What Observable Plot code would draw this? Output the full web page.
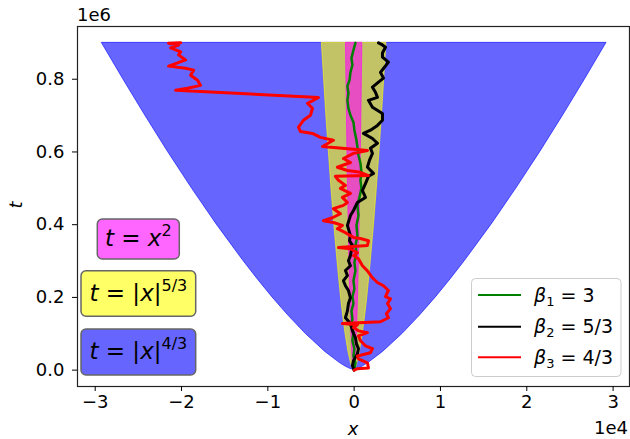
<!DOCTYPE html>
<html><head><meta charset="utf-8">
<script src="https://cdn.jsdelivr.net/npm/d3@7"></script>
<script src="https://cdn.jsdelivr.net/npm/@observablehq/plot@0.6"></script>
<style>body{margin:0;background:#fff;} #chart{width:630px;height:439px;}</style>
</head><body><div id="chart"></div>
<script>
// units: x in 1e4, t in 1e6
const tLevels = [0, 0.005, 0.01, 0.02, 0.05, 0.1, 0.15, 0.2, 0.25, 0.3, 0.4, 0.5, 0.6, 0.7, 0.8, 0.9];
const blueHalf = [0, 0.059, 0.1, 0.168, 0.334, 0.562, 0.762, 0.946, 1.118, 1.282, 1.591, 1.880, 2.156, 2.420, 2.675, 2.924];
const yellowHalf = [0, 0.017, 0.025, 0.038, 0.066, 0.1, 0.128, 0.152, 0.173, 0.193, 0.230, 0.263, 0.293, 0.322, 0.348, 0.374];
const pinkHalf = [0, 0.0071, 0.01, 0.0141, 0.0224, 0.0316, 0.0387, 0.0447, 0.05, 0.0548, 0.0632, 0.0707, 0.0775, 0.0837, 0.0894, 0.0949];

const greenX = [0, 0.015, -0.008, 0.003, -0.020, -0.008, -0.031, -0.020, -0.031, -0.008, -0.020, 0.003, -0.008, 0.015, 0.003, 0.027, 0.015, 0.038, 0.027, 0.050, 0.038, 0.061, 0.085, 0.073, 0.085, 0.073, 0.050, 0.038, 0.027, 0.003, -0.008, -0.043, -0.066, -0.078, -0.066, -0.078, -0.054, -0.043, -0.020, -0.031, -0.008, 0.015];
const greenT = [0, 0.020, 0.039, 0.059, 0.081, 0.103, 0.122, 0.141, 0.163, 0.183, 0.202, 0.224, 0.246, 0.273, 0.296, 0.323, 0.343, 0.370, 0.398, 0.425, 0.453, 0.475, 0.500, 0.522, 0.544, 0.569, 0.591, 0.613, 0.632, 0.660, 0.682, 0.701, 0.720, 0.742, 0.761, 0.781, 0.797, 0.819, 0.839, 0.858, 0.880, 0.900];

const blackX = [0, -0.020, -0.008, 0.038, 0.050, 0.027, 0.015, -0.020, -0.043, -0.101, -0.078, -0.066, -0.043, -0.066, -0.101, -0.124, -0.078, -0.101, -0.043, -0.066, -0.043, -0.020, -0.054, -0.043, -0.078, -0.043, -0.008, 0.038, 0.131, 0.096, 0.131, 0.166, 0.224, 0.154, 0.177, 0.212, 0.189, 0.270, 0.212, 0.108, 0.189, 0.270, 0.328, 0.328, 0.212, 0.166, 0.270, 0.247, 0.212, 0.282, 0.340, 0.305, 0.351, 0.397, 0.328, 0.328, 0.363, 0.316, 0.282];
const blackT = [0, 0.012, 0.026, 0.045, 0.059, 0.072, 0.089, 0.108, 0.128, 0.144, 0.163, 0.183, 0.199, 0.219, 0.232, 0.246, 0.260, 0.274, 0.287, 0.301, 0.315, 0.343, 0.356, 0.370, 0.398, 0.425, 0.439, 0.461, 0.475, 0.494, 0.513, 0.533, 0.541, 0.558, 0.577, 0.596, 0.610, 0.624, 0.637, 0.651, 0.660, 0.673, 0.687, 0.706, 0.723, 0.742, 0.750, 0.764, 0.778, 0.792, 0.803, 0.819, 0.833, 0.847, 0.861, 0.872, 0.888, 0.896, 0.900];

const redX = [0, 0.038, 0.166, 0.154, 0.050, 0.038, 0.189, 0.212, 0.131, 0.073, 0.050, 0.154, 0.050, -0.008, 0.038, -0.136, 0.305, 0.397, 0.374, 0.421, 0.386, 0.421, 0.363, 0.397, 0.340, 0.270, 0.212, 0.154, 0.096, 0.050, -0.008, 0.038, -0.043, -0.182, 0.154, 0.166, 0.073, -0.008, -0.101, -0.194, -0.136, -0.240, -0.356, -0.252, -0.159, -0.240, -0.124, -0.078, -0.136, -0.043, -0.159, -0.101, -0.182, -0.217, 0.166, 0.073, -0.078, -0.194, -0.043, -0.124, -0.008, 0.050, 0.154, -0.367, -0.240, -0.391, -0.483, -0.622, -0.645, -0.587, -0.506, -0.483, -0.541, -0.472, -0.414, -2.069, -1.930, -1.779, -1.814, -1.895, -1.860, -1.953, -2.150, -2.046, -1.953, -2.034, -2.010, -2.126, -2.034, -2.150, -2.010];
const redT = [0, 0.004, 0.006, 0.020, 0.031, 0.039, 0.048, 0.059, 0.067, 0.081, 0.094, 0.103, 0.108, 0.117, 0.125, 0.128, 0.133, 0.144, 0.155, 0.169, 0.183, 0.196, 0.202, 0.219, 0.232, 0.241, 0.254, 0.273, 0.287, 0.306, 0.315, 0.323, 0.334, 0.337, 0.343, 0.356, 0.362, 0.365, 0.378, 0.389, 0.398, 0.406, 0.411, 0.419, 0.430, 0.444, 0.453, 0.461, 0.475, 0.486, 0.500, 0.508, 0.522, 0.533, 0.535, 0.544, 0.549, 0.558, 0.571, 0.582, 0.596, 0.599, 0.604, 0.615, 0.632, 0.640, 0.651, 0.656, 0.668, 0.687, 0.701, 0.720, 0.734, 0.742, 0.750, 0.770, 0.775, 0.783, 0.797, 0.811, 0.825, 0.830, 0.836, 0.845, 0.853, 0.867, 0.875, 0.886, 0.894, 0.899, 0.900];

const xTicks = [-3, -2, -1, 0, 1, 2, 3];
const yTicks = [0, 0.2, 0.4, 0.6, 0.8];

const band = (half) => tLevels.map((t, i) => ({t, lo: -half[i], hi: half[i]}));
const path = (xs, ts) => xs.slice(0, Math.min(xs.length, ts.length)).map((x, i) => ({x, t: ts[i]}));

const svg = Plot.plot({
  width: 630, height: 439,
  marginLeft: 77, marginRight: 1, marginTop: 26, marginBottom: 53,
  style: {fontFamily: "DejaVu Sans", fontSize: "18px", background: "white", color: "black", overflow: "visible"},
  x: {domain: [-3.205, 3.19]},
  y: {domain: [-0.045, 0.945]},
  marks: [
    Plot.areaX(band(blueHalf), {y: "t", x1: "lo", x2: "hi", fill: "blue", fillOpacity: 0.6, stroke: "blue", strokeOpacity: 0.6, strokeWidth: 1}),
    Plot.areaX(band(yellowHalf), {y: "t", x1: "lo", x2: "hi", fill: "yellow", fillOpacity: 0.6, stroke: "yellow", strokeOpacity: 0.6, strokeWidth: 1}),
    Plot.areaX(band(pinkHalf), {y: "t", x1: "lo", x2: "hi", fill: "magenta", fillOpacity: 0.6, stroke: "magenta", strokeOpacity: 0.6, strokeWidth: 1}),
    Plot.line(path(greenX, greenT), {x: "x", y: "t", stroke: "green", strokeWidth: 2.5}),
    Plot.line(path(blackX, blackT), {x: "x", y: "t", stroke: "black", strokeWidth: 3}),
    Plot.line(path(redX, redT), {x: "x", y: "t", stroke: "red", strokeWidth: 3}),
    Plot.frame({stroke: "#222", strokeWidth: 1.2}),
    Plot.axisX({ticks: xTicks, tickSize: 5, tickPadding: 4, tickFormat: d3.format("d"), label: null}),
    Plot.axisY({ticks: yTicks, tickSize: 5, tickPadding: 8, tickFormat: d3.format(".1f"), label: null})
  ]
});
document.getElementById("chart").appendChild(svg);

const g = d3.select(svg).append("g").attr("font-family", "DejaVu Sans").attr("fill", "black").attr("text-anchor", "start");
// offsets and axis labels
g.append("text").attr("x", 77).attr("y", 20.5).attr("font-size", 18).attr("text-anchor", "start").text("1e6");
g.append("text").attr("x", 628).attr("y", 434).attr("font-size", 18).attr("text-anchor", "end").text("1e4");
g.append("text").attr("x", 353).attr("y", 435).attr("font-size", 18).attr("font-style", "italic").attr("text-anchor", "middle").text("x");
g.append("text").attr("transform", "translate(22,205) rotate(-90)").attr("font-size", 18).attr("font-style", "italic").attr("text-anchor", "middle").text("t");

// annotation boxes
const boxes = [
  {x: 97.3, y: 219, w: 82, h: 40, fill: "rgb(255,102,255)", exp: "2", abs: false, base: 246},
  {x: 81, y: 270.7, w: 114.7, h: 45.6, fill: "rgb(255,255,102)", exp: "5/3", abs: true, base: 301},
  {x: 81, y: 329, w: 114.7, h: 46, fill: "rgb(102,102,255)", exp: "4/3", abs: true, base: 359}
];
for (const b of boxes) {
  g.append("rect").attr("x", b.x).attr("y", b.y).attr("width", b.w).attr("height", b.h)
    .attr("rx", 5).attr("fill", b.fill).attr("stroke", "#666").attr("stroke-width", 1.5);
  const t = g.append("text").attr("x", b.x + b.w / 2).attr("y", b.base).attr("font-size", 23).attr("text-anchor", "middle");
  t.append("tspan").attr("font-style", "italic").text("t");
  t.append("tspan").text(b.abs ? " = |" : " = ");
  t.append("tspan").attr("font-style", "italic").text("x");
  if (b.abs) t.append("tspan").text("|");
  t.append("tspan").attr("font-size", 16).attr("dy", -10).text(b.exp);
}

// legend
const legend = [
  {color: "green", sub: "1", val: "3", y: 295},
  {color: "black", sub: "2", val: "5/3", y: 326.7},
  {color: "red", sub: "3", val: "4/3", y: 357.3}
];
g.append("rect").attr("x", 471.5).attr("y", 278.5).attr("width", 149.5).attr("height", 98)
  .attr("rx", 4).attr("fill", "white").attr("fill-opacity", 0.8).attr("stroke", "#cccccc").attr("stroke-width", 1);
for (const l of legend) {
  g.append("line").attr("x1", 478).attr("x2", 521).attr("y1", l.y).attr("y2", l.y).attr("stroke", l.color).attr("stroke-width", 2);
  const t = g.append("text").attr("x", 534).attr("y", l.y + 6.5).attr("font-size", 19).attr("text-anchor", "start");
  t.append("tspan").attr("font-style", "italic").text("β");
  t.append("tspan").attr("font-size", 13).attr("dy", 4).text(l.sub);
  t.append("tspan").attr("dy", -4).text(" = " + l.val);
}
</script>
</body></html>
